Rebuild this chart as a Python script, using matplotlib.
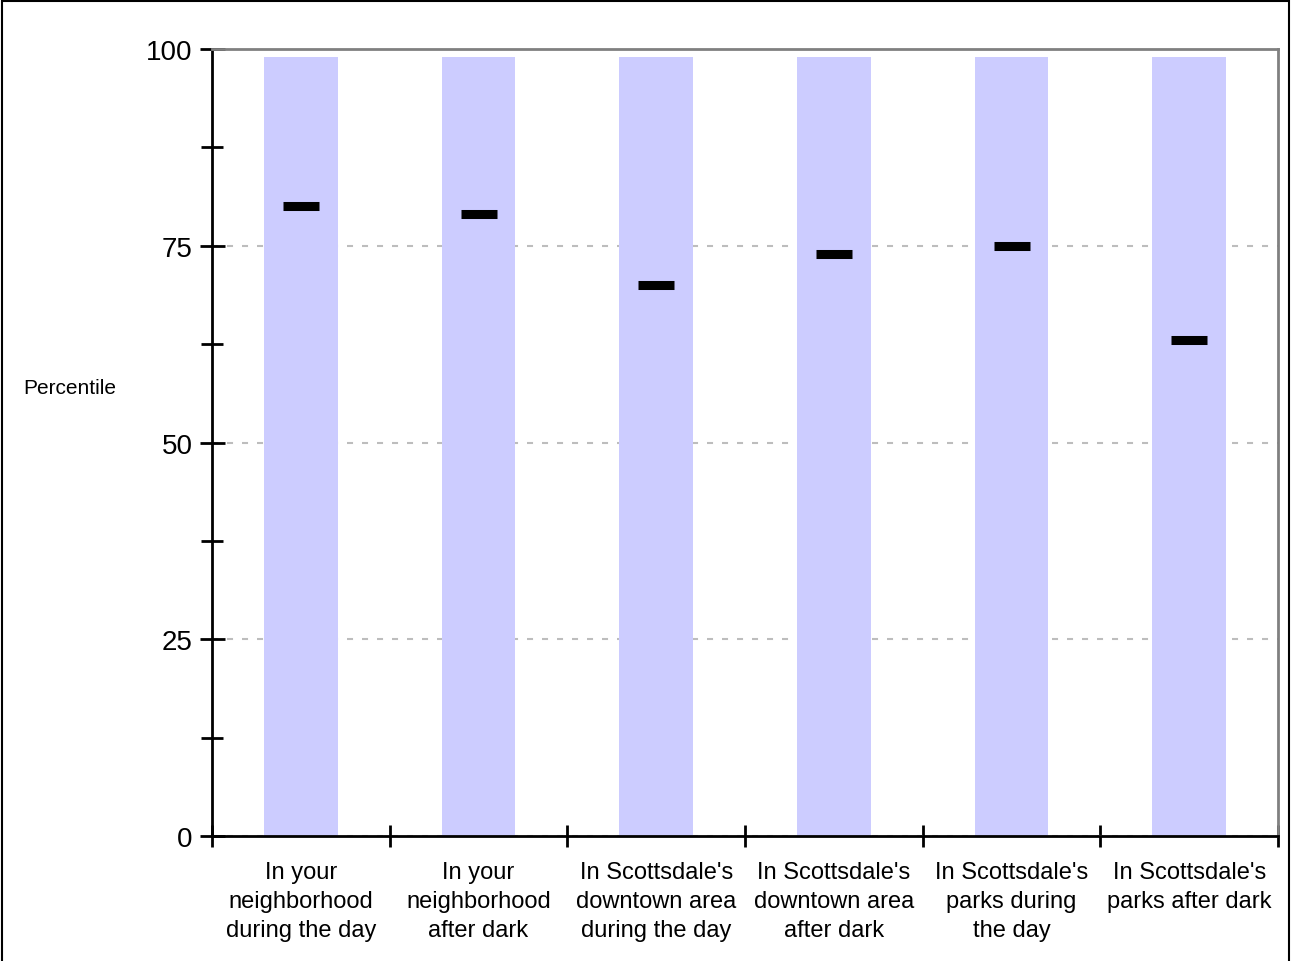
import numpy as np
import matplotlib
matplotlib.use('Agg')
import matplotlib.pyplot as plt
import matplotlib.patches as patches
from matplotlib.ticker import MultipleLocator

plt.rcParams['font.family'] = ['Liberation Sans', 'DejaVu Sans']

#%% data
categories = ["In your\nneighborhood\nduring the day",
              "In your\nneighborhood\nafter dark",
              "In Scottsdale's\ndowntown area\nduring the day",
              "In Scottsdale's\ndowntown area\nafter dark",
              "In Scottsdale's\nparks during\nthe day",
              "In Scottsdale's\nparks after dark"]
range_top = [99, 99, 99, 99, 99, 99]
percentile = [80, 79, 70, 74, 75, 63]

#%% plot
fig = plt.figure(figsize=(12.95, 9.62), dpi=100)
ax = fig.add_axes([212/1295, 1 - 837/962, (1278-212)/1295, (837-50)/962])

x = np.arange(len(categories))
ax.bar(x, range_top, width=0.415, color='#ccccff', zorder=2)
ax.plot(x, percentile, linestyle='none', marker='_', markersize=25.5,
        markeredgewidth=6.5, color='black', zorder=3)

ax.set_xlim(-0.5, len(categories) - 0.5)
ax.set_ylim(0, 100)
ax.yaxis.set_major_locator(MultipleLocator(25))
ax.yaxis.set_minor_locator(MultipleLocator(12.5))
ax.set_xticks(np.arange(len(categories) + 1) - 0.5, minor=True)
ax.set_xticks(x)
ax.set_xticklabels(categories, fontsize=17, linespacing=1.42)
ax.tick_params(axis='x', which='major', length=0, pad=18)
ax.tick_params(axis='x', which='minor', direction='inout', length=16, width=2)
ax.tick_params(axis='y', which='both', direction='inout', length=18, width=2,
               labelsize=20, pad=5)
ax.tick_params(axis='y', which='minor', length=16)

ax.grid(axis='y', which='major', color='#bdbdbd', linestyle=(0, (2.9, 4.3)),
        linewidth=1.5, zorder=1)
ax.set_axisbelow(True)

for s in ['left', 'bottom']:
    ax.spines[s].set_color('black')
    ax.spines[s].set_linewidth(2)
for s in ['top', 'right']:
    ax.spines[s].set_color('#808080')
    ax.spines[s].set_linewidth(2)

fig.text(70/1295, 1 - 388/962, 'Percentile', fontsize=15, ha='center', va='center')

# cadre autour de la figure
rect = patches.Rectangle((2/1295, -0.01), 1287/1295, 1.01 - 1.5/962,
                         transform=fig.transFigure, fill=False,
                         edgecolor='black', linewidth=1.5, clip_on=False)
fig.patches.append(rect)

fig.savefig('out.png', dpi=100)
